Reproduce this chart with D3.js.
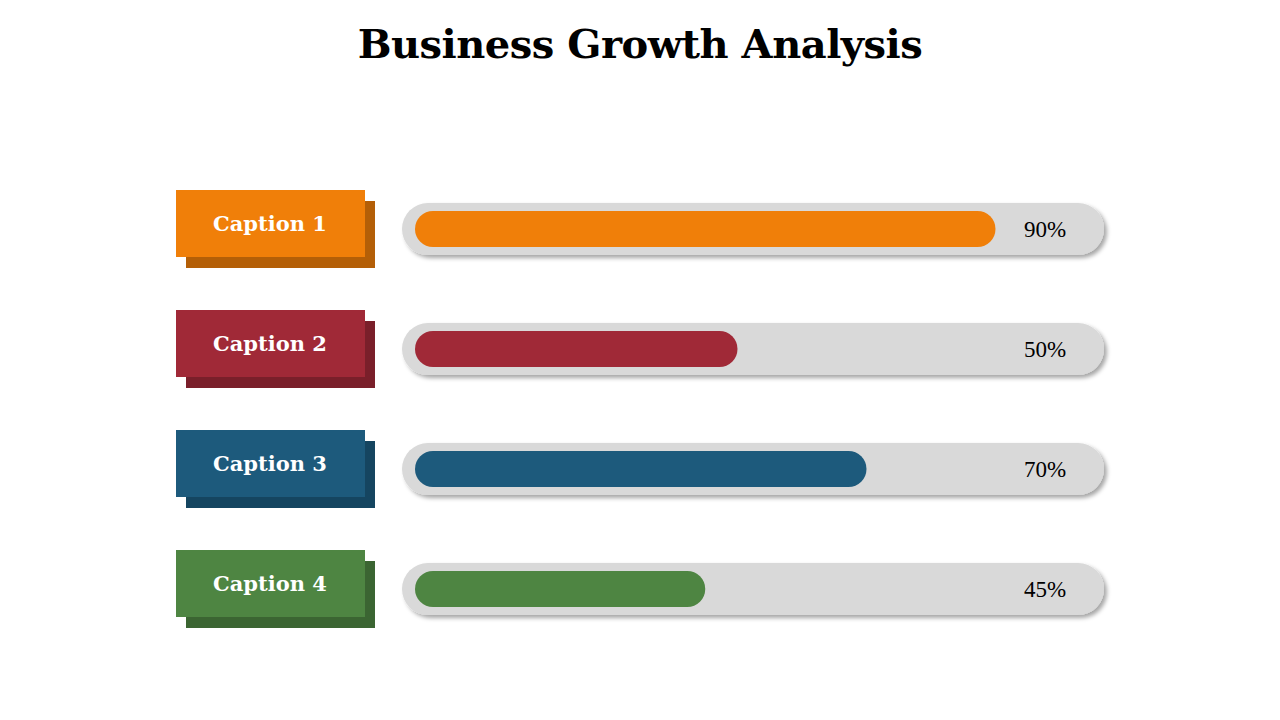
<!DOCTYPE html>
<html><head><meta charset="utf-8">
<script src="https://cdn.jsdelivr.net/npm/d3@7/dist/d3.min.js"></script>
<style>body{margin:0;background:#fff}</style></head>
<body><svg id="c" width="1280" height="720"></svg>
<script>
const categories=["Caption 1","Caption 2","Caption 3","Caption 4"];
const values=[90,50,70,45];
const colors=["#F07F09","#A02937","#1D5A7C","#4E8542"];
const shadowColors=["#B45F07","#7A1F2A","#154560","#3B6532"];
const svg=d3.select("#c");
const defs=svg.append("defs");
const f=defs.append("filter").attr("id","sh").attr("x","-5%").attr("y","-30%").attr("width","115%").attr("height","170%");
f.append("feDropShadow").attr("dx",3).attr("dy",3).attr("stdDeviation",2).attr("flood-color","#000").attr("flood-opacity",0.35);
svg.append("text").attr("x",640).attr("y",58).attr("text-anchor","middle")
 .attr("font-family","DejaVu Serif, serif").attr("font-weight","bold").attr("font-size",40).attr("letter-spacing",-0.5).text("Business Growth Analysis");
const y=d3.scaleBand().domain(categories).range([170,650]).paddingInner(0);
const x=d3.scaleLinear().domain([0,100]).range([0,645]);
categories.forEach((c,i)=>{
  const top=y(c)+20;
  const g=svg.append("g");
  g.append("rect").attr("x",186).attr("y",top+11).attr("width",189).attr("height",67).attr("fill",shadowColors[i]);
  g.append("rect").attr("x",176).attr("y",top).attr("width",189).attr("height",67).attr("fill",colors[i]);
  g.append("text").attr("x",270).attr("y",top+41).attr("text-anchor","middle").attr("fill","#fff")
   .attr("font-family","DejaVu Serif, serif").attr("font-weight","bold").attr("font-size",21).text(c);
  const ty=top+13;
  g.append("rect").attr("x",402).attr("y",ty).attr("width",702).attr("height",52).attr("rx",26).attr("fill","#D9D9D9").attr("filter","url(#sh)");
  g.append("rect").attr("x",415).attr("y",ty+8).attr("width",x(values[i])).attr("height",36).attr("rx",18).attr("fill",colors[i]);
  g.append("text").attr("x",1045).attr("y",ty+34).attr("text-anchor","middle")
   .attr("font-family","Liberation Serif, serif").attr("font-size",23).text(values[i]+"%");
});
</script></body></html>
